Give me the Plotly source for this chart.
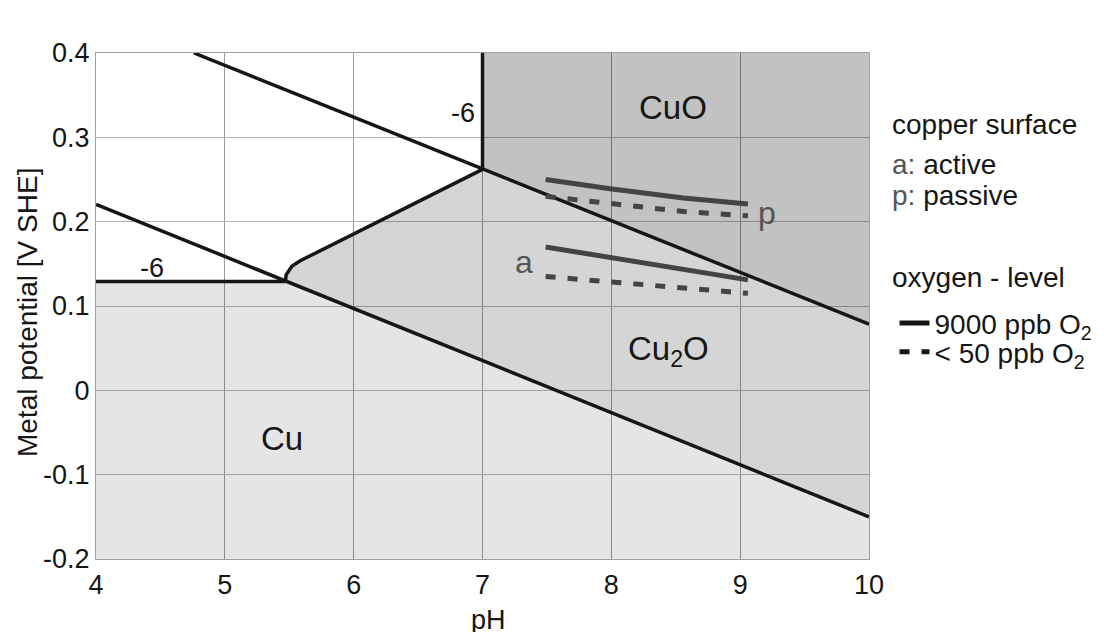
import numpy as np
import plotly.graph_objects as go

# ---------------- axis ticks ----------------
ph_ticks = [4, 5, 6, 7, 8, 9, 10]
ph_tick_labels = ["4", "5", "6", "7", "8", "9", "10"]
e_ticks = [-0.2, -0.1, 0.0, 0.1, 0.2, 0.3, 0.4]
e_tick_labels = ["-0.2", "-0.1", "0", "0.1", "0.2", "0.3", "0.4"]
ph_range = [4, 10]
e_range = [-0.2, 0.4]

# ---------------- stability boundaries (pH, E [V SHE]) ----------------
lower_ph = [4.0, 10.0]            # Cu / Cu2O
lower_e = [0.2205, -0.150]
upper_ph = [4.76, 10.0]           # Cu2O / CuO
upper_e = [0.400, 0.0785]
cu_ion_ph = [4.0, 5.47]           # Cu / Cu2+ (10^-6)
cu_ion_e = [0.129, 0.129]
cu2o_ion_ph = [5.47, 5.476, 5.52, 5.585, 7.0]   # Cu2O / Cu2+
cu2o_ion_e = [0.129, 0.137, 0.147, 0.1536, 0.262]
cuo_ion_ph = [7.0, 7.0]           # CuO / Cu2+
cuo_ion_e = [0.262, 0.400]

# ---------------- measured potentials ----------------
meas_ph = [7.49, 7.99, 8.56, 9.06]
passive_9000 = [0.250, 0.239, 0.228, 0.221]
passive_50 = [0.230, 0.222, 0.212, 0.207]
active_9000 = [0.170, 0.158, 0.143, 0.131]
active_50 = [0.135, 0.129, 0.121, 0.115]

# ---------------- region labels ----------------
region_text = ["CuO", "Cu<sub>2</sub>O", "Cu", "-6", "-6"]
region_x = [8.476, 8.44, 5.445, 6.85, 4.435]
region_y = [0.335, 0.0465, -0.057, 0.329, 0.145]
region_size = [33, 33, 33, 27, 27]

surf_text = ["a", "p"]
surf_x = [7.32, 9.21]
surf_y = [0.152, 0.210]

FONT = "Liberation Sans, Arial, sans-serif"
BLACK = "#161616"
LINEGRAY = "#444444"


def at(xs, ys, x):
    return float(np.interp(x, xs, ys))


x0, x1 = ph_range
y0, y1 = e_range

# region polygons, built from the boundaries
cu_x = [x0] + cu_ion_ph + [lower_ph[-1], x1]
cu_y = [y0] + cu_ion_e + [lower_e[-1], y0]

cu2o_x = cu2o_ion_ph + [x1, x1, cu2o_ion_ph[0]]
cu2o_y = cu2o_ion_e + [at(upper_ph, upper_e, x1), at(lower_ph, lower_e, x1),
                       at(lower_ph, lower_e, cu2o_ion_ph[0])]

cuo_x = [cuo_ion_ph[0], cuo_ion_ph[-1], x1, x1]
cuo_y = [cuo_ion_e[0], y1, y1, at(upper_ph, upper_e, x1)]

fig = go.Figure()

for px, py, col in [(cu_x, cu_y, "rgba(0,0,0,0.10)"),
                    (cu2o_x, cu2o_y, "rgba(0,0,0,0.165)"),
                    (cuo_x, cuo_y, "rgba(0,0,0,0.24)")]:
    fig.add_trace(go.Scatter(x=px, y=py, mode="none", fill="toself",
                             fillcolor=col, showlegend=False, hoverinfo="skip"))

for bx, by in [(lower_ph, lower_e), (upper_ph, upper_e), (cu_ion_ph, cu_ion_e),
               (cu2o_ion_ph, cu2o_ion_e), (cuo_ion_ph, cuo_ion_e)]:
    fig.add_trace(go.Scatter(x=bx, y=by, mode="lines",
                             line=dict(color=BLACK, width=3.5),
                             showlegend=False, hoverinfo="skip"))

DASH = "10px,12px"
for yy, dash in [(passive_9000, "solid"), (passive_50, DASH),
                 (active_9000, "solid"), (active_50, DASH)]:
    fig.add_trace(go.Scatter(x=meas_ph, y=yy, mode="lines",
                             line=dict(color=LINEGRAY, width=5, dash=dash),
                             showlegend=False))

# legend entries
fig.add_trace(go.Scatter(x=[None], y=[None], mode="lines",
                         line=dict(color=BLACK, width=5),
                         name="9000 ppb O<sub>2</sub>", legend="legend"))
fig.add_trace(go.Scatter(x=[None], y=[None], mode="lines",
                         line=dict(color=BLACK, width=5, dash=DASH),
                         name="&lt; 50 ppb O<sub>2</sub>", legend="legend2"))

annotations = []
for t, x, y, s in zip(region_text, region_x, region_y, region_size):
    annotations.append(dict(x=x, y=y, xref="x", yref="y", text=t, showarrow=False,
                            font=dict(size=s, color=BLACK, family=FONT)))
for t, x, y in zip(surf_text, surf_x, surf_y):
    annotations.append(dict(x=x, y=y, xref="x", yref="y", text=t, showarrow=False,
                            font=dict(size=32, color="#555555", family=FONT)))

side = [("copper surface", 0.858),
        ("<span style='color:#555555'>a:</span> active", 0.779),
        ("<span style='color:#555555'>p:</span> passive", 0.719),
        ("oxygen - level", 0.557)]
for t, y in side:
    annotations.append(dict(x=1.027, y=y, xref="paper", yref="paper", text=t,
                            showarrow=False, xanchor="left", yanchor="middle",
                            font=dict(size=28, color=BLACK, family=FONT)))

# axis titles
annotations.append(dict(x=-0.0893, y=0.488, xref="paper", yref="paper",
                        text="Metal potential [V SHE]", textangle=-90,
                        showarrow=False, xanchor="center", yanchor="middle",
                        font=dict(size=28, color=BLACK, family=FONT)))
annotations.append(dict(x=0.508, y=-0.1215, xref="paper", yref="paper",
                        text="pH", showarrow=False, xanchor="center",
                        yanchor="middle",
                        font=dict(size=27, color=BLACK, family=FONT)))

axis_common = dict(showgrid=True, gridwidth=1, zeroline=False, showline=True,
                   mirror=True, linecolor="#a0a0a0", linewidth=1, ticks="",
                   automargin=False,
                   tickfont=dict(size=27, color=BLACK, family=FONT))

fig.update_layout(
    width=1096, height=624,
    margin=dict(l=88, r=235, t=45, b=73, autoexpand=False),
    paper_bgcolor="white", plot_bgcolor="white",
    font=dict(family=FONT, color=BLACK),
    xaxis=dict(range=ph_range, tickvals=ph_ticks, ticktext=ph_tick_labels,
               gridcolor="#9c9c9c", ticklabelstandoff=2, **axis_common),
    yaxis=dict(range=e_range, tickvals=e_ticks, ticktext=e_tick_labels,
               gridcolor="#b4b4b4", ticklabelstandoff=0, **axis_common),
    legend=dict(x=1.033, y=0.466, xanchor="left", yanchor="middle",
                font=dict(size=28, family=FONT, color=BLACK),
                bgcolor="rgba(0,0,0,0)", borderwidth=0, tracegroupgap=0),
    legend2=dict(x=1.033, y=0.409, xanchor="left", yanchor="middle",
                 font=dict(size=28, family=FONT, color=BLACK),
                 bgcolor="rgba(0,0,0,0)", borderwidth=0, tracegroupgap=0),
    annotations=annotations,
)

fig.write_html("out.html")
